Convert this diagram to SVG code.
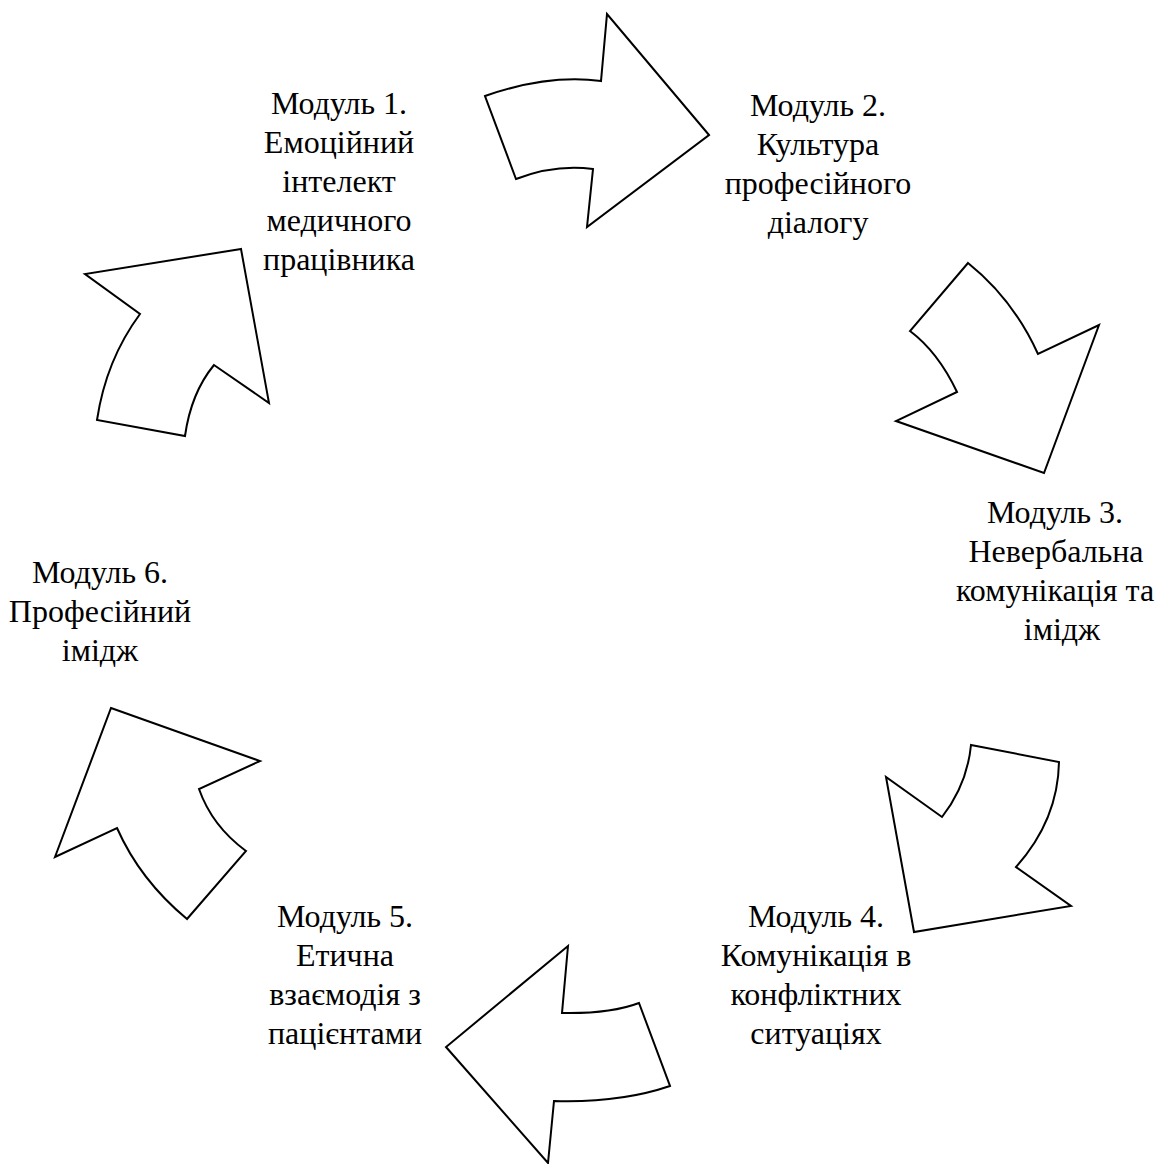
<svg xmlns="http://www.w3.org/2000/svg" width="1158" height="1164" viewBox="0 0 1158 1164">
<style>
.arrow{fill:#fff;stroke:#000;stroke-width:2;stroke-linejoin:miter}
.lbl{font-family:'Liberation Serif','Times New Roman',serif;font-size:32px;fill:#000;text-anchor:middle}
</style>
<rect width="1158" height="1164" fill="#fff"/>
<g id="connectors">
<path id="arrow1" class="arrow" d="M709,135 L607,14 L601,81 Q548,74 485,96 L516,179 Q555,164 593,169 L587,227 Z"/>
<path id="arrow2" class="arrow" d="M968,263 L910,331 Q938,352 957,392 L896,421 L1044,473 L1099,325 L1038,354 Q1013,299 968,263 Z"/>
<path id="arrow3" class="arrow" d="M971,745 L1059,762 Q1058,820 1016,867 L1071,906 L914,932 L886,777 L942,817 Q967,785 971,745 Z"/>
<path id="arrow4" class="arrow" d="M568,946 L562,1013 Q610,1014 639,1003 L670,1086 Q620,1103 554,1101 L548,1163 L446,1047 Z"/>
<path id="arrow5" class="arrow" d="M111,708 L260,761 L199,789 Q212,826 246,851 L187,919 Q140,880 117,828 L55,857 Z"/>
<path id="arrow6" class="arrow" d="M241,249 L85,274 L140,314 Q106,360 97,420 L185,436 Q191,393 214,365 L269,403 Z"/>
</g>
<g id="node1">
<text class="lbl" x="339" y="114">Модуль 1.</text>
<text class="lbl" x="339" y="153">Емоційний</text>
<text class="lbl" x="339" y="192">інтелект</text>
<text class="lbl" x="339" y="231">медичного</text>
<text class="lbl" x="339" y="270">працівника</text>
</g>
<g id="node2">
<text class="lbl" x="818" y="116">Модуль 2.</text>
<text class="lbl" x="818" y="155">Культура</text>
<text class="lbl" x="818" y="194">професійного</text>
<text class="lbl" x="818" y="233">діалогу</text>
</g>
<g id="node3">
<text class="lbl" x="1055" y="523">Модуль 3.</text>
<text class="lbl" x="1056" y="562">Невербальна</text>
<text class="lbl" x="1055" y="601">комунікація та</text>
<text class="lbl" x="1062" y="640">імідж</text>
</g>
<g id="node4">
<text class="lbl" x="816" y="927">Модуль 4.</text>
<text class="lbl" x="816" y="966">Комунікація в</text>
<text class="lbl" x="816" y="1005">конфліктних</text>
<text class="lbl" x="816" y="1044">ситуаціях</text>
</g>
<g id="node5">
<text class="lbl" x="345" y="927">Модуль 5.</text>
<text class="lbl" x="345" y="966">Етична</text>
<text class="lbl" x="345" y="1005">взаємодія з</text>
<text class="lbl" x="345" y="1044">пацієнтами</text>
</g>
<g id="node6">
<text class="lbl" x="100" y="583">Модуль 6.</text>
<text class="lbl" x="100" y="622">Професійний</text>
<text class="lbl" x="100" y="661">імідж</text>
</g>
</svg>
